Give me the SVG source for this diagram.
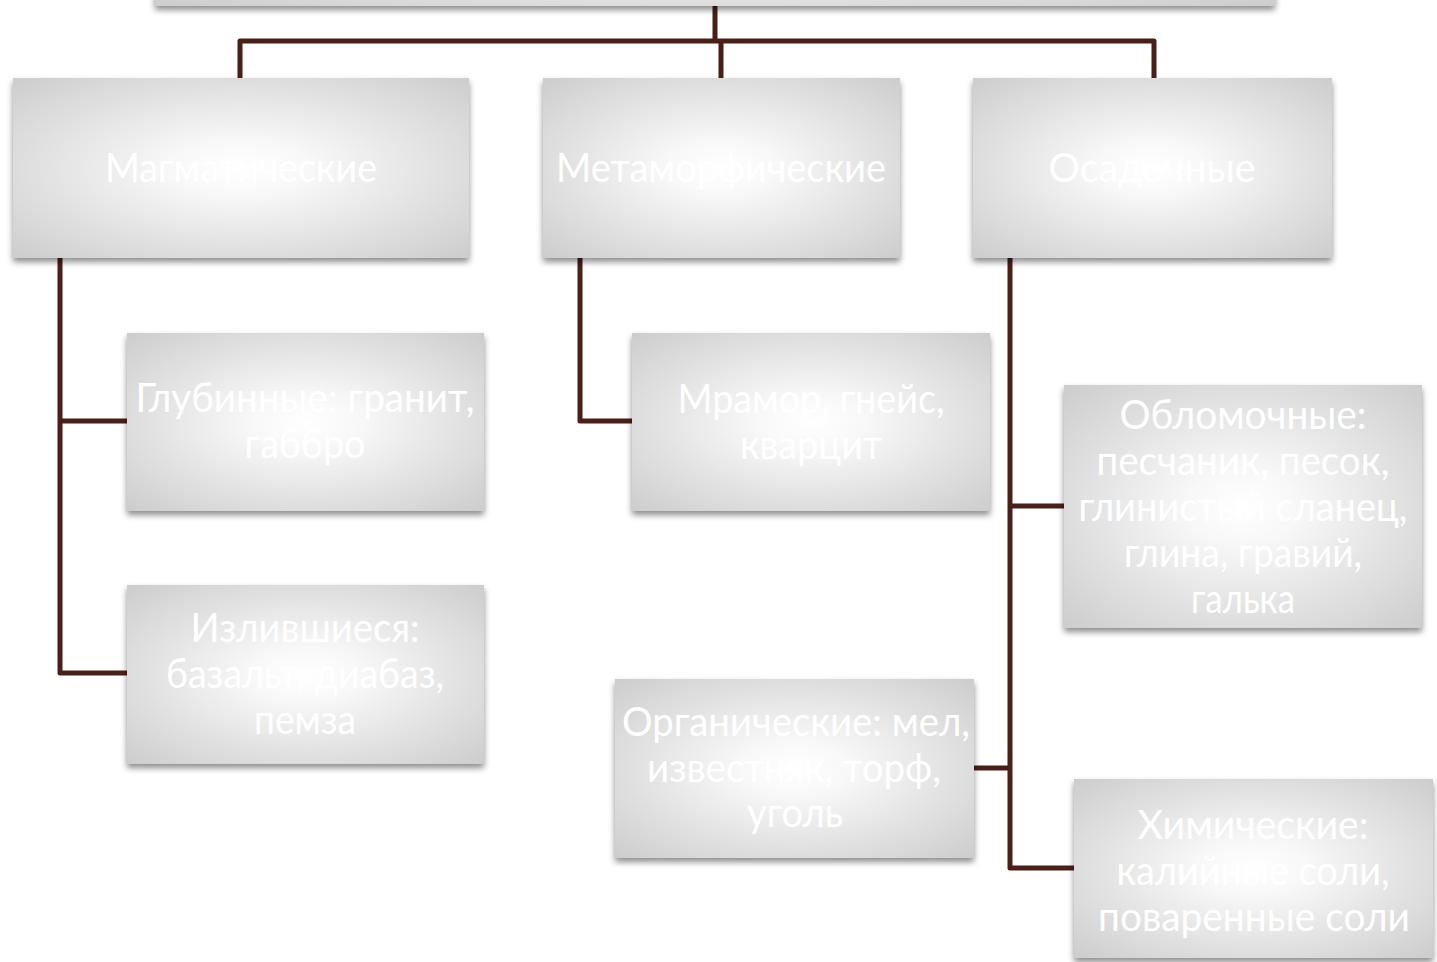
<svg xmlns="http://www.w3.org/2000/svg" width="1437" height="962" viewBox="0 0 1437 962">
<defs>
<radialGradient id="g" cx="0.5" cy="0.5" r="0.75">
<stop offset="0" stop-color="#ffffff"/>
<stop offset="0.2" stop-color="#f8f8f8"/>
<stop offset="1" stop-color="#c9c9c9"/>
</radialGradient>
<filter id="sh" x="-10%" y="-10%" width="120%" height="130%">
<feDropShadow dx="0" dy="4" stdDeviation="3" flood-color="#000" flood-opacity="0.45"/>
</filter>
</defs>
<style>
.box{fill:url(#g);filter:url(#sh);}
.t{font-family:"Lato","Open Sans","Liberation Sans",sans-serif;font-size:40px;fill:#ffffff;text-anchor:middle;}
.c{stroke:#4a1f17;stroke-width:5;fill:none;stroke-linejoin:round;}
</style>
<rect width="1437" height="962" fill="#ffffff"/>
<g id="connectors">
<path class="c" d="M715 6 V41"/>
<path class="c" d="M240 78 V41 H1154 V78"/>
<path class="c" d="M721 41 V78"/>
<path class="c" d="M60 258 V673 H127"/>
<path class="c" d="M60 421 H127"/>
<path class="c" d="M580 258 V421 H632"/>
<path class="c" d="M1010 258 V868 H1074"/>
<path class="c" d="M1010 506 H1064"/>
<path class="c" d="M974 768 H1010"/>
</g>
<g id="root"><rect class="box" x="155" y="-100" width="1120" height="106"/></g>
<g id="magm"><rect class="box" x="13" y="78" width="456" height="180"/>
<text class="t" x="241" y="182" textLength="272" lengthAdjust="spacingAndGlyphs">Магматические</text></g>
<g id="metam"><rect class="box" x="543" y="78" width="357" height="180"/>
<text class="t" x="721" y="182" textLength="330" lengthAdjust="spacingAndGlyphs">Метаморфические</text></g>
<g id="osad"><rect class="box" x="973" y="78" width="359" height="180"/>
<text class="t" x="1152" y="182" textLength="207" lengthAdjust="spacingAndGlyphs">Осадочные</text></g>
<g id="glub"><rect class="box" x="127" y="333" width="357" height="178"/>
<text class="t" x="305" y="412" textLength="339" lengthAdjust="spacingAndGlyphs">Глубинные: гранит,</text>
<text class="t" x="305" y="458" textLength="121" lengthAdjust="spacingAndGlyphs">габбро</text></g>
<g id="izl"><rect class="box" x="127" y="585" width="357" height="179"/>
<text class="t" x="305" y="642" textLength="229" lengthAdjust="spacingAndGlyphs">Излившиеся:</text>
<text class="t" x="305" y="688" textLength="278" lengthAdjust="spacingAndGlyphs">базальт, диабаз,</text>
<text class="t" x="305" y="734" textLength="102" lengthAdjust="spacingAndGlyphs">пемза</text></g>
<g id="mram"><rect class="box" x="632" y="333" width="358" height="178"/>
<text class="t" x="811" y="413" textLength="267" lengthAdjust="spacingAndGlyphs">Мрамор, гнейс,</text>
<text class="t" x="811" y="459" textLength="142" lengthAdjust="spacingAndGlyphs">кварцит</text></g>
<g id="oblom"><rect class="box" x="1064" y="385" width="358" height="243"/>
<text class="t" x="1243" y="429" textLength="247" lengthAdjust="spacingAndGlyphs">Обломочные:</text>
<text class="t" x="1243" y="475" textLength="293" lengthAdjust="spacingAndGlyphs">песчаник, песок,</text>
<text class="t" x="1243" y="521" textLength="329" lengthAdjust="spacingAndGlyphs">глинистый сланец,</text>
<text class="t" x="1243" y="567" textLength="238" lengthAdjust="spacingAndGlyphs">глина, гравий,</text>
<text class="t" x="1243" y="613" textLength="104" lengthAdjust="spacingAndGlyphs">галька</text></g>
<g id="organ"><rect class="box" x="615" y="679" width="359" height="179"/>
<text class="t" x="796" y="736" textLength="348" lengthAdjust="spacingAndGlyphs">Органические: мел,</text>
<text class="t" x="794" y="782" textLength="294" lengthAdjust="spacingAndGlyphs">известняк, торф,</text>
<text class="t" x="795" y="827" textLength="96" lengthAdjust="spacingAndGlyphs">уголь</text></g>
<g id="chem"><rect class="box" x="1074" y="779" width="359" height="179"/>
<text class="t" x="1253" y="839" textLength="231" lengthAdjust="spacingAndGlyphs">Химические:</text>
<text class="t" x="1253" y="885" textLength="273" lengthAdjust="spacingAndGlyphs">калийные соли,</text>
<text class="t" x="1254" y="931" textLength="312" lengthAdjust="spacingAndGlyphs">поваренные соли</text></g>
</svg>
